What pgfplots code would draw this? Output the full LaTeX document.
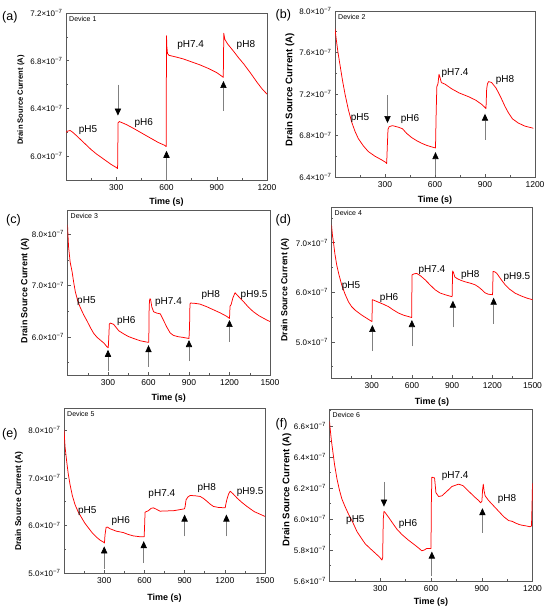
\documentclass[border=0pt]{standalone}
\usepackage{pgfplots}
\pgfplotsset{compat=1.18}
\usepackage{fontspec}
\setmainfont{Liberation Sans}
\usetikzlibrary{arrows.meta}
\newcommand{\sci}[1]{#1×10\textsuperscript{−7}}
\pgfplotsset{
  panel/.style={
    scale only axis,
    axis line style={black!65, line width=0.6pt},
    tick align=inside,
    tick pos=left,
    major tick length=3pt, minor tick length=1.8pt,
    tick style={black!65, line width=0.5pt},
    x tick label style={font=\fontsize{8.5}{9}\selectfont, yshift=-1.5pt},
    y tick label style={font=\fontsize{8}{9}\selectfont},
    /pgf/number format/assume math mode=true,
    /pgf/number format/1000 sep={},
    xlabel={Time (s)},
    ylabel={Drain Source Current (A)},
  },
  dev/.style={red, line width=0.75pt, line join=round},
}
\tikzset{
  phar/.style={draw=black!50, line width=0.7pt, -{Triangle[color=black, width=6.3pt, length=7pt]}},
  phl/.style={font=\fontsize{10}{11}\selectfont},
  devl/.style={font=\fontsize{7}{8}\selectfont, anchor=north west, inner sep=1pt},
  pan/.style={font=\fontsize{12.5}{13}\selectfont, anchor=west, inner sep=0pt},
}
\begin{document}
\begin{tikzpicture}
\path[use as bounding box] (0pt,0pt) rectangle (550pt,613pt);

% ---------------- (a)
\begin{axis}[panel, at={(66pt,433pt)}, anchor=south west, width=201pt, height=167pt,
  xmin=0, xmax=1200, ymin=5.8, ymax=7.2,
  xtick={300,600,900,1200}, minor xtick={150,450,750,1050},
  ytick={6.0,6.4,6.8,7.2}, yticklabels={\sci{6.0},\sci{6.4},\sci{6.8},\sci{7.2}},
  minor ytick={6.2,6.6,7.0},
  xlabel style={font=\bfseries\fontsize{9}{10}\selectfont, at={(axis description cs:0.5,-0.13)}, anchor=center},
  ylabel style={font=\bfseries\fontsize{7.6}{8}\selectfont, at={(axis description cs:-0.224,0.479)}, anchor=center},
]
\addplot[dev] coordinates {
(0,6.20) (10,6.21) (25,6.215) (40,6.20) (60,6.175) (90,6.135) (120,6.095) (150,6.055)
(180,6.02) (210,5.99) (240,5.96) (270,5.93) (300,5.905) (308,5.895) (311,6.28) (318,6.29)
(335,6.28) (360,6.265) (400,6.235) (450,6.195) (500,6.155) (550,6.115) (590,6.09) (598,6.08)
(600,7.01) (602,6.92) (606,6.86) (615,6.845) (660,6.83) (700,6.815) (750,6.79) (800,6.765)
(850,6.735) (900,6.70) (935,6.665) (939,6.66) (942,7.03) (948,6.98) (965,6.94) (1000,6.88)
(1030,6.825) (1060,6.775) (1100,6.70) (1140,6.62) (1170,6.565) (1200,6.52)};
\draw[phar] (axis cs:310,6.60) -- (axis cs:310,6.34);
\draw[phar] (axis cs:600,5.80) -- (axis cs:600,6.045);
\draw[phar] (axis cs:940,6.38) -- (axis cs:940,6.63);
\node[phl] at (axis cs:132,6.22) {pH5};
\node[phl] at (axis cs:464,6.28) {pH6};
\node[phl] at (axis cs:744,6.93) {pH7.4};
\node[phl] at (axis cs:1074,6.93) {pH8};
\node[devl] at (rel axis cs:0.01,0.985) {Device 1};
\end{axis}

% ---------------- (b)
\begin{axis}[panel, at={(335pt,436pt)}, anchor=south west, width=200pt, height=166pt,
  xmin=0, xmax=1200, ymin=6.4, ymax=8.0,
  xtick={300,600,900,1200}, minor xtick={150,450,750,1050},
  ytick={6.4,6.8,7.2,7.6,8.0}, yticklabels={\sci{6.4},\sci{6.8},\sci{7.2},\sci{7.6},\sci{8.0}},
  minor ytick={6.6,7.0,7.4,7.8},
  xlabel style={font=\bfseries\fontsize{9}{10}\selectfont, at={(axis description cs:0.5,-0.139)}, anchor=center},
  ylabel style={font=\bfseries\fontsize{9.6}{10}\selectfont, at={(axis description cs:-0.225,0.524)}, anchor=center},
]
\addplot[dev] coordinates {
(0,7.83) (8,7.72) (18,7.60) (30,7.48) (45,7.33) (60,7.20) (80,7.05) (100,6.93) (120,6.84)
(140,6.77) (170,6.70) (200,6.645) (240,6.60) (280,6.565) (305,6.54) (310,6.53) (314,6.70)
(318,6.86) (325,6.885) (345,6.895) (380,6.88) (405,6.865) (430,6.82) (460,6.78) (490,6.75)
(520,6.725) (550,6.705) (580,6.69) (603,6.68) (607,7.02) (611,7.27) (618,7.30) (624,7.39)
(630,7.36) (638,7.31) (660,7.295) (700,7.25) (745,7.21) (800,7.175) (845,7.14) (880,7.10)
(900,7.07) (906,7.06) (910,7.25) (915,7.30) (922,7.32) (940,7.31) (965,7.26) (985,7.20)
(1000,7.15) (1020,7.08) (1040,7.02) (1065,6.96) (1100,6.92) (1140,6.89) (1190,6.87)};
\draw[phar] (axis cs:315,7.19) -- (axis cs:315,6.92);
\draw[phar] (axis cs:603,6.42) -- (axis cs:603,6.64);
\draw[phar] (axis cs:900,6.76) -- (axis cs:900,7.01);
\node[phl] at (axis cs:150,6.97) {pH5};
\node[phl] at (axis cs:450,6.96) {pH6};
\node[phl] at (axis cs:720,7.40) {pH7.4};
\node[phl] at (axis cs:1020,7.335) {pH8};
\node[devl] at (rel axis cs:0.01,0.985) {Device 2};
\end{axis}

% ---------------- (c)
\begin{axis}[panel, at={(67.5pt,238pt)}, anchor=south west, width=202.5pt, height=165pt,
  xmin=0, xmax=1500, ymin=5.26, ymax=8.47,
  xtick={300,600,900,1200,1500}, minor xtick={150,450,750,1050,1350},
  ytick={6.0,7.0,8.0}, yticklabels={\sci{6.0},\sci{7.0},\sci{8.0}},
  minor ytick={5.5,6.5,7.5},
  xlabel style={font=\bfseries\fontsize{9}{10}\selectfont, at={(axis description cs:0.5,-0.139)}, anchor=center},
  ylabel style={font=\bfseries\fontsize{8.9}{10}\selectfont, at={(axis description cs:-0.21,0.51)}, anchor=center},
]
\addplot[dev] coordinates {
(0,8.18) (8,7.75) (20,7.45) (34,7.27) (46,7.06) (58,6.88) (75,6.71) (95,6.57) (120,6.43)
(145,6.31) (170,6.18) (194,6.07) (220,5.99) (243,5.94) (270,5.88) (292,5.81) (302,5.79)
(306,6.00) (310,6.25) (318,6.27) (342,6.245) (380,6.12) (416,6.06) (450,6.01) (490,5.97)
(540,5.925) (588,5.90) (602,5.895) (605,6.60) (609,6.74) (615,6.74) (625,6.58) (638,6.49)
(660,6.465) (687,6.45) (710,6.33) (736,6.19) (760,6.08) (785,6.03) (820,6.005) (859,5.99)
(900,5.97) (904,6.20) (907,6.64) (912,6.66) (940,6.655) (980,6.64) (1030,6.59) (1080,6.53)
(1130,6.47) (1180,6.40) (1200,6.36) (1204,6.60) (1212,6.63) (1225,6.76) (1241,6.86)
(1255,6.82) (1280,6.75) (1303,6.69) (1340,6.58) (1377,6.49) (1420,6.41) (1476,6.33) (1500,6.30)};
\draw[phar] (axis cs:300,5.34) -- (axis cs:300,5.75);
\draw[phar] (axis cs:600,5.42) -- (axis cs:600,5.84);
\draw[phar] (axis cs:900,5.53) -- (axis cs:900,5.94);
\draw[phar] (axis cs:1200,5.91) -- (axis cs:1200,6.33);
\node[phl] at (axis cs:140,6.69) {pH5};
\node[phl] at (axis cs:436,6.30) {pH6};
\node[phl] at (axis cs:748,6.675) {pH7.4};
\node[phl] at (axis cs:1061,6.81) {pH8};
\node[phl] at (axis cs:1382,6.81) {pH9.5};
\node[devl] at (rel axis cs:0.01,0.985) {Device 3};
\end{axis}

% ---------------- (d)
\begin{axis}[panel, at={(331.5pt,235pt)}, anchor=south west, width=201pt, height=171pt,
  xmin=0, xmax=1500, ymin=4.27, ymax=7.72,
  xtick={300,600,900,1200,1500}, minor xtick={150,450,750,1050,1350},
  ytick={5.0,6.0,7.0}, yticklabels={\sci{5.0},\sci{6.0},\sci{7.0}},
  minor ytick={4.5,5.5,6.5,7.5},
  xlabel style={font=\bfseries\fontsize{9}{10}\selectfont, at={(axis description cs:0.5,-0.14)}, anchor=center},
  ylabel style={font=\bfseries\fontsize{8.8}{10}\selectfont, at={(axis description cs:-0.231,0.515)}, anchor=center},
]
\addplot[dev] coordinates {
(0,7.36) (7,7.15) (14,7.02) (25,6.78) (39,6.55) (55,6.36) (76,6.15) (100,5.97) (126,5.81)
(150,5.71) (176,5.64) (200,5.59) (225,5.54) (260,5.48) (295,5.42) (302,5.41) (305,5.85)
(315,5.84) (350,5.80) (390,5.755) (425,5.71) (460,5.645) (500,5.58) (540,5.535) (574,5.51)
(598,5.49) (601,6.35) (615,6.37) (636,6.38) (665,6.33) (699,6.25) (735,6.15) (773,6.05)
(810,5.985) (848,5.95) (880,5.925) (900,5.91) (904,6.43) (910,6.40) (920,6.31) (935,6.28)
(965,6.24) (998,6.21) (1040,6.18) (1072,6.15) (1100,6.10) (1122,6.05) (1145,5.99) (1170,5.96)
(1202,5.95) (1206,6.42) (1220,6.41) (1234,6.38) (1265,6.26) (1296,6.15) (1330,6.06)
(1371,5.98) (1420,5.92) (1460,5.88) (1500,5.85)};
\draw[phar] (axis cs:305,4.81) -- (axis cs:305,5.34);
\draw[phar] (axis cs:600,4.91) -- (axis cs:600,5.44);
\draw[phar] (axis cs:906,5.29) -- (axis cs:906,5.83);
\draw[phar] (axis cs:1210,5.36) -- (axis cs:1210,5.89);
\node[phl] at (axis cs:146,6.13) {pH5};
\node[phl] at (axis cs:430,5.89) {pH6};
\node[phl] at (axis cs:749,6.44) {pH7.4};
\node[phl] at (axis cs:1035,6.35) {pH8};
\node[phl] at (axis cs:1384,6.30) {pH9.5};
\node[devl] at (rel axis cs:0.01,0.985) {Device 4};
\end{axis}

% ---------------- (e)
\begin{axis}[panel, at={(64pt,40pt)}, anchor=south west, width=201pt, height=165pt,
  xmin=0, xmax=1500, ymin=5.0, ymax=8.47,
  xtick={300,600,900,1200,1500}, minor xtick={150,450,750,1050,1350},
  ytick={5.0,6.0,7.0,8.0}, yticklabels={\sci{5.0},\sci{6.0},\sci{7.0},\sci{8.0}},
  minor ytick={5.5,6.5,7.5},
  xlabel style={font=\bfseries\fontsize{9}{10}\selectfont, at={(axis description cs:0.5,-0.152)}, anchor=center},
  ylabel style={font=\bfseries\fontsize{8.4}{10}\selectfont, at={(axis description cs:-0.224,0.436)}, anchor=center},
]
\addplot[dev] coordinates {
(0,8.01) (8,7.65) (20,7.35) (32,7.08) (45,6.86) (62,6.63) (82,6.44) (105,6.29) (132,6.16)
(155,6.05) (182,5.95) (212,5.84) (244,5.75) (270,5.69) (294,5.65) (302,5.63) (306,5.80)
(314,5.96) (325,5.965) (344,5.93) (390,5.88) (443,5.85) (480,5.81) (518,5.78) (560,5.765)
(598,5.76) (601,5.95) (605,6.28) (630,6.31) (650,6.36) (667,6.37) (690,6.34) (717,6.30)
(760,6.305) (817,6.31) (860,6.33) (899,6.35) (904,6.40) (911,6.54) (925,6.60) (941,6.63)
(975,6.625) (1016,6.61) (1040,6.57) (1066,6.51) (1090,6.45) (1115,6.40) (1150,6.38)
(1203,6.37) (1208,6.45) (1215,6.54) (1228,6.66) (1240,6.72) (1260,6.67) (1290,6.58)
(1325,6.49) (1365,6.40) (1420,6.29) (1460,6.24) (1500,6.19)};
\draw[phar] (axis cs:300,5.09) -- (axis cs:300,5.56);
\draw[phar] (axis cs:595,5.21) -- (axis cs:595,5.67);
\draw[phar] (axis cs:900,5.77) -- (axis cs:900,6.23);
\draw[phar] (axis cs:1212,5.77) -- (axis cs:1212,6.23);
\node[phl] at (axis cs:174,6.30) {pH5};
\node[phl] at (axis cs:423,6.09) {pH6};
\node[phl] at (axis cs:730,6.66) {pH7.4};
\node[phl] at (axis cs:1066,6.79) {pH8};
\node[phl] at (axis cs:1389,6.70) {pH9.5};
\node[devl] at (rel axis cs:0.01,0.985) {Device 5};
\end{axis}

% ---------------- (f)
\begin{axis}[panel, at={(329.5pt,32pt)}, anchor=south west, width=203pt, height=172pt,
  xmin=0, xmax=1200, ymin=5.6, ymax=6.71,
  xtick={300,600,900,1200}, minor xtick={150,450,750,1050},
  ytick={5.6,5.8,6.0,6.2,6.4,6.6}, yticklabels={\sci{5.6},\sci{5.8},\sci{6.0},\sci{6.2},\sci{6.4},\sci{6.6}},
  minor ytick={5.7,5.9,6.1,6.3,6.5,6.7},
  xlabel style={font=\bfseries\fontsize{9}{10}\selectfont, at={(axis description cs:0.5,-0.122)}, anchor=center},
  ylabel style={font=\bfseries\fontsize{9.6}{10}\selectfont, at={(axis description cs:-0.21,0.529)}, anchor=center},
]
\addplot[dev] coordinates {
(0,6.63) (6,6.56) (12,6.50) (18,6.45) (30,6.35) (44,6.26) (58,6.19) (73,6.13) (92,6.08)
(113,6.03) (137,5.98) (162,5.92) (186,5.88) (211,5.84) (240,5.81) (270,5.78) (295,5.755)
(310,5.735) (314,5.75) (318,6.00) (322,6.05) (330,6.04) (350,6.01) (369,5.98) (398,5.935)
(428,5.90) (465,5.865) (507,5.83) (530,5.81) (545,5.795) (560,5.80) (575,5.81) (600,5.81)
(602,6.10) (605,6.27) (621,6.265) (625,6.22) (629,6.17) (645,6.145) (665,6.15) (695,6.18)
(724,6.21) (763,6.225) (790,6.215) (822,6.18) (860,6.14) (881,6.12) (893,6.105) (901,6.115)
(905,6.19) (909,6.225) (914,6.18) (920,6.15) (940,6.12) (970,6.085) (1000,6.05) (1030,6.015)
(1059,5.99) (1080,5.985) (1098,5.975) (1120,5.965) (1137,5.96) (1165,5.955) (1186,5.95)
(1194,5.955) (1197,6.08) (1200,6.23)};
\draw[phar] (axis cs:322,6.24) -- (axis cs:322,6.08);
\draw[phar] (axis cs:605,5.63) -- (axis cs:605,5.79);
\draw[phar] (axis cs:904,5.91) -- (axis cs:904,6.07);
\node[phl] at (axis cs:153,5.99) {pH5};
\node[phl] at (axis cs:464,5.97) {pH6};
\node[phl] at (axis cs:743,6.28) {pH7.4};
\node[phl] at (axis cs:1049,6.13) {pH8};
\node[devl] at (rel axis cs:0.01,0.985) {Device 6};
\end{axis}

% panel letters
\node[pan] at (2pt,595.5pt) {(a)};
\node[pan] at (275.5pt,598pt) {(b)};
\node[pan] at (6pt,393pt) {(c)};
\node[pan] at (275.5pt,393pt) {(d)};
\node[pan] at (2pt,179pt) {(e)};
\node[pan] at (275.5pt,189pt) {(f)};
\end{tikzpicture}
\end{document}
